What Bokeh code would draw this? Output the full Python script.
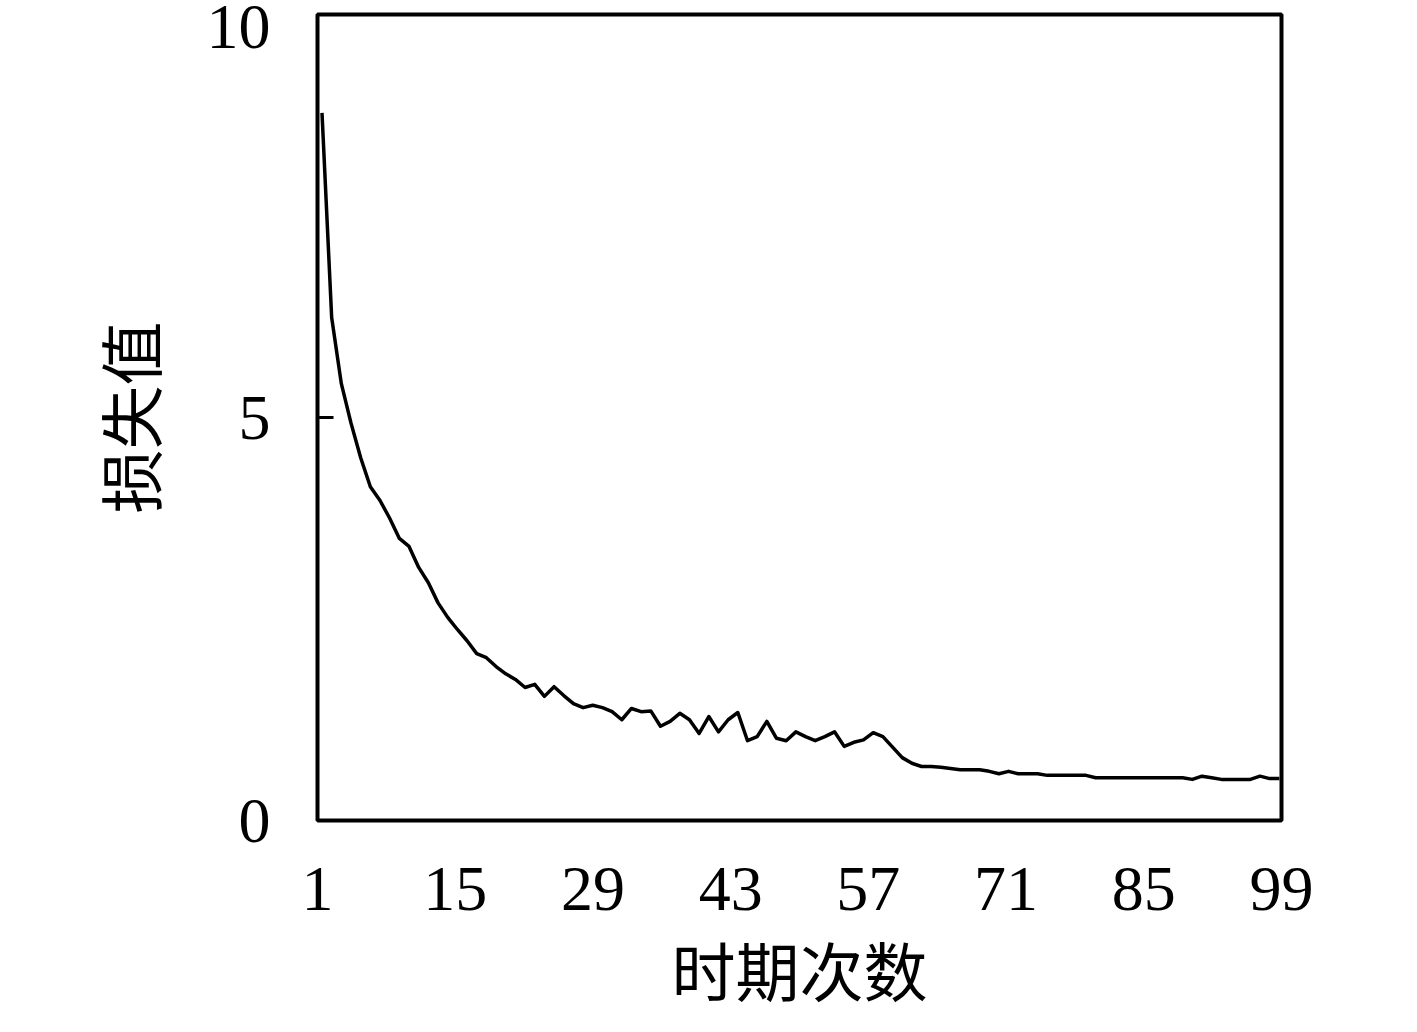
from bokeh.plotting import figure
from bokeh.models import Range1d, LinearAxis, FixedTicker
from bokeh.embed import file_html
from bokeh.resources import INLINE

# ---- data ----
epochs = list(range(1, 101))
loss = [8.78, 6.24, 5.42, 4.93, 4.50, 4.14, 3.97, 3.75, 3.50, 3.40,
        3.14, 2.95, 2.70, 2.52, 2.37, 2.23, 2.07, 2.02, 1.91, 1.82,
        1.75, 1.65, 1.69, 1.54, 1.66, 1.55, 1.45, 1.40, 1.43, 1.40,
        1.35, 1.25, 1.39, 1.35, 1.36, 1.17, 1.23, 1.33, 1.25, 1.08,
        1.29, 1.10, 1.25, 1.34, 0.99, 1.04, 1.23, 1.02, 0.99, 1.10,
        1.04, 0.99, 1.04, 1.10, 0.92, 0.97, 1.00, 1.09, 1.04, 0.91,
        0.78, 0.71, 0.67, 0.67, 0.66, 0.645, 0.63, 0.63, 0.63, 0.61,
        0.58, 0.61, 0.58, 0.58, 0.58, 0.56, 0.56, 0.56, 0.56, 0.56,
        0.53, 0.53, 0.53, 0.53, 0.53, 0.53, 0.53, 0.53, 0.53, 0.53,
        0.51, 0.55, 0.53, 0.51, 0.51, 0.51, 0.51, 0.55, 0.52, 0.52]
x_tick_values = [1, 15, 29, 43, 57, 71, 85, 99]
x_tick_labels = ["1", "15", "29", "43", "57", "71", "85", "99"]
y_tick_values = [0, 5, 10]
y_tick_labels = ["0", "5", "10"]
x_label = "时期次数"
y_label = "损失值"

NUM_FONT = "Liberation Serif"
CJK_FONT = "Noto Sans CJK SC"
FS = "64px"

p = figure(width=1400, height=1016,
           x_range=Range1d(0.535, 100.22), y_range=Range1d(0, 10),
           output_backend="svg", toolbar_location=None,
           x_axis_location=None,
           min_border_left=317, min_border_top=14,
           min_border_right=119, min_border_bottom=196)
p.extra_x_ranges = {"tick": Range1d(x_tick_values[0], x_tick_values[-1])}

p.grid.visible = False
p.background_fill_color = "white"
p.border_fill_color = "white"
p.outline_line_color = "black"
p.outline_line_width = 4

p.line(epochs, loss, line_color="black", line_width=3.5, line_join="round")

xaxis = LinearAxis(x_range_name="tick",
                   ticker=FixedTicker(ticks=x_tick_values),
                   major_label_overrides={v: t for v, t in zip(x_tick_values, x_tick_labels)})
xaxis.axis_line_color = None
xaxis.major_tick_in = 0
xaxis.major_tick_out = 0
xaxis.minor_tick_in = 0
xaxis.minor_tick_out = 0
xaxis.major_label_standoff = 47
xaxis.major_label_text_font = NUM_FONT
xaxis.major_label_text_font_size = FS
xaxis.major_label_text_color = "black"
xaxis.axis_label = x_label
xaxis.axis_label_text_font = CJK_FONT
xaxis.axis_label_text_font_size = FS
xaxis.axis_label_text_font_style = "normal"
xaxis.axis_label_text_color = "black"
xaxis.axis_label_standoff = 9
p.add_layout(xaxis, "below")

yaxis = p.yaxis[0]
yaxis.ticker = FixedTicker(ticks=y_tick_values)
overrides = {v: t for v, t in zip(y_tick_values, y_tick_labels)}
# the top label sits a little below its tick (as in the original), via an empty leading line
overrides[y_tick_values[-1]] = "\n" + y_tick_labels[-1]
yaxis.major_label_overrides = overrides
yaxis.major_label_text_line_height = -0.14
yaxis.axis_line_color = None
yaxis.major_tick_in = 16
yaxis.major_tick_out = 0
yaxis.major_tick_line_width = 3
yaxis.major_tick_line_color = "black"
yaxis.minor_tick_in = 0
yaxis.minor_tick_out = 0
yaxis.major_label_standoff = 47
yaxis.major_label_text_font = NUM_FONT
yaxis.major_label_text_font_size = FS
yaxis.major_label_text_color = "black"
yaxis.axis_label = y_label
yaxis.axis_label_text_font = CJK_FONT
yaxis.axis_label_text_font_size = FS
yaxis.axis_label_text_font_style = "normal"
yaxis.axis_label_text_color = "black"
yaxis.axis_label_standoff = 30

open("out.html", "w").write(file_html(p, INLINE))
